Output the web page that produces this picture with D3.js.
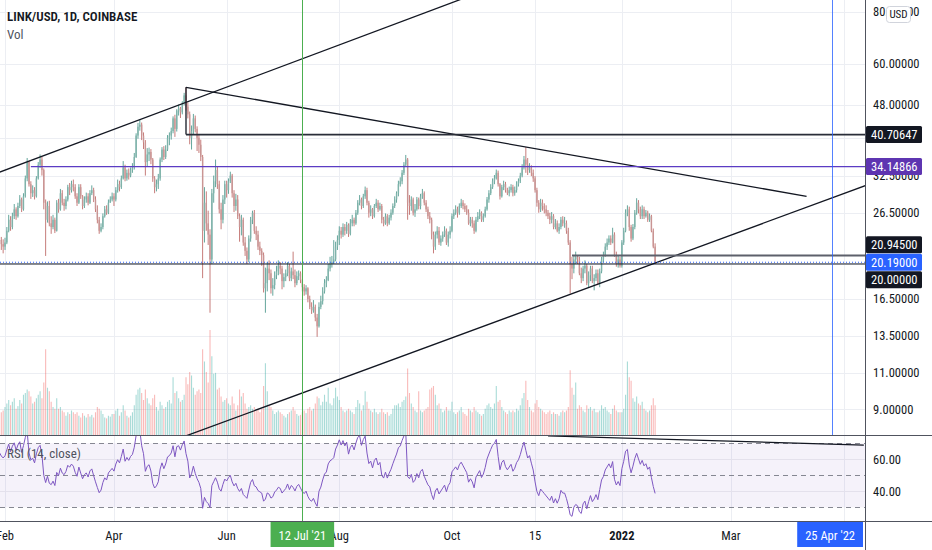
<!DOCTYPE html>
<html>
<head>
<meta charset="utf-8">
<script src="https://cdn.jsdelivr.net/npm/d3@7"></script>
<style>
  body { margin: 0; background: #fff; }
  svg { display: block; font-family: "Liberation Sans Narrow", "Roboto Condensed", Roboto, sans-serif; }
</style>
</head>
<body>
<svg id="chart" width="932" height="550"></svg>
<script>
"use strict";

// daily LINK/USD candles, 29 Jan 2021 .. 19 Jan 2022
const firstDay = "2021-01-29";

// closes before the visible range, only used to seed RSI(14)
const seedCloses = [11.9, 12.6, 12.9, 13.6, 15.1, 16.8, 17.3, 17.9, 18.7, 19.6, 15.9, 16.0, 17.9, 21.0,
  20.5, 23.0, 23.5, 22.6, 22.5, 21.4, 19.0, 21.8, 22.0, 21.6, 21.7, 21.9, 19.9, 22.7];

const closes = [
  22.8, 22.3, 22.0,
  22.5, 24.0, 25.5, 24.5, 26.0, 27.0, 26.0, 27.5, 28.5, 27.0, 29.0, 32.0, 35.0, 31.0, 29.5, 30.0, 29.0, 32.0, 34.5, 35.5, 33.5, 28.0, 25.5, 27.5, 25.0, 24.5, 25.5, 24.0,
  28.0, 27.0, 29.5, 28.0, 27.5, 28.5, 30.5, 30.0, 31.0, 30.5, 29.0, 28.0, 30.5, 29.0, 27.5, 28.5, 29.0, 28.0, 29.5, 30.0, 28.5, 27.0, 25.5, 24.0, 24.5, 26.0, 27.0, 26.5, 28.0, 28.5, 29.0,
  28.5, 30.0, 31.0, 30.5, 32.0, 34.0, 32.0, 33.0, 32.5, 33.5, 34.0, 36.0, 40.5, 42.5, 43.0, 40.5, 39.0, 35.0, 36.5, 37.0, 35.5, 32.0, 30.5, 31.0, 32.0, 35.5, 37.5, 36.0, 37.5, 40.0,
  40.5, 41.5, 44.5, 42.0, 46.5, 47.0, 46.0, 48.5, 50.5, 47.5, 45.5, 40.0, 41.5, 44.5, 42.0, 40.0, 38.5, 36.0, 24.0, 28.0, 25.0, 23.5, 20.5, 29.5, 31.5, 33.5, 31.0, 27.0, 25.5, 28.5, 31.0,
  30.0, 31.5, 32.5, 29.5, 27.5, 28.5, 26.0, 24.5, 25.5, 22.5, 21.5, 20.5, 23.0, 25.5, 26.5, 24.0, 23.5, 22.0, 21.5, 21.0, 17.5, 18.0, 19.5, 19.0, 17.5, 17.8, 18.8, 19.2, 19.8, 19.5,
  18.2, 18.6, 19.0, 19.8, 18.5, 19.2, 18.8, 18.0, 18.7, 19.0, 18.3, 17.6, 17.2, 17.5, 16.5, 15.8, 15.5, 15.8, 14.9, 14.2, 15.8, 16.3, 17.2, 18.0, 18.3, 19.5, 20.0, 20.2, 20.5, 22.0, 22.8,
  24.0, 23.5, 24.5, 24.0, 24.8, 23.6, 25.0, 25.5, 25.0, 26.5, 28.0, 28.5, 27.5, 29.0, 30.0, 28.0, 26.5, 27.0, 26.0, 27.5, 28.0, 27.0, 27.5, 25.5, 25.0, 26.0, 25.0, 25.8, 26.5, 27.5, 28.5,
  29.5, 31.0, 31.5, 33.0, 34.5, 35.5, 28.0, 27.5, 28.5, 26.5, 27.0, 28.5, 27.5, 29.0, 29.5, 28.0, 27.0, 26.0, 25.5, 23.5, 22.0, 23.5, 24.0, 22.5, 23.0, 23.5, 24.0, 22.5, 23.5, 24.0,
  26.0, 26.5, 27.0, 26.5, 27.5, 28.0, 27.5, 27.0, 26.5, 25.0, 25.5, 25.0, 24.0, 25.5, 26.0, 26.5, 25.5, 26.0, 27.0, 28.5, 29.5, 30.5, 31.5, 32.0, 33.0, 31.0, 29.0, 30.5, 31.0, 30.0, 29.5,
  30.0, 30.5, 29.5, 30.0, 31.0, 31.5, 32.5, 34.0, 35.5, 34.5, 33.5, 34.0, 33.0, 32.0, 30.0, 28.0, 27.0, 28.0, 27.5, 27.0, 26.5, 26.0, 25.5, 26.0, 24.5, 25.0, 24.0, 24.5, 25.5, 25.0,
  25.0, 24.0, 22.5, 20.0, 19.5, 20.5, 20.8, 20.5, 19.0, 18.5, 19.5, 19.8, 18.0, 18.8, 19.5, 18.2, 18.5, 19.0, 18.0, 19.2, 20.5, 21.0, 22.0, 22.5, 23.0, 22.5, 23.5, 21.0, 20.0, 20.5, 19.8,
  22.5, 24.0, 26.5, 27.0, 24.5, 23.0, 24.5, 26.5, 28.0, 27.0, 26.0, 27.0, 26.0, 26.5, 25.5, 26.0, 24.0, 22.0, 20.19
];

const highs = [
  23.6, 23.2, 22.9,
  23.1, 24.5, 26.2, 26.0, 26.5, 27.8, 27.3, 28.0, 29.2, 28.8, 29.5, 32.5, 35.8, 35.2, 31.5, 30.8, 30.5, 32.4, 35.0, 36.5, 36.0, 33.8, 28.5, 28.2, 28.3, 26.0, 26.2, 25.8,
  28.4, 28.6, 30.2, 30.0, 28.6, 29.0, 30.9, 31.2, 31.6, 31.8, 31.0, 29.5, 31.0, 31.0, 29.2, 29.0, 29.6, 29.5, 30.0, 30.8, 30.4, 29.0, 27.6, 25.9, 25.0, 26.4, 27.5, 27.6, 28.5, 29.0, 29.6,
  29.5, 30.5, 31.8, 31.6, 32.5, 35.2, 34.5, 33.6, 33.8, 34.0, 34.8, 36.8, 41.0, 43.4, 44.3, 43.5, 41.2, 39.5, 37.8, 37.9, 37.6, 35.8, 32.4, 31.8, 32.8, 35.9, 38.0, 38.2, 38.4, 40.6,
  41.2, 42.3, 45.0, 45.4, 46.8, 48.0, 47.4, 48.9, 51.2, 52.8, 48.6, 46.2, 42.8, 45.6, 45.2, 42.6, 40.8, 39.6, 36.4, 30.5, 29.8, 26.8, 24.2, 30.2, 32.5, 35.5, 34.2, 31.6, 28.0, 29.2, 31.6,
  31.6, 32.0, 33.2, 32.8, 30.0, 29.4, 29.2, 26.4, 26.2, 25.8, 23.2, 21.9, 23.4, 25.9, 26.8, 26.9, 24.6, 24.0, 22.6, 21.8, 21.3, 19.6, 20.2, 20.4, 19.4, 18.5, 19.2, 19.8, 20.4, 20.2,
  19.8, 19.0, 19.4, 20.2, 20.0, 19.6, 21.4, 19.4, 19.2, 19.3, 19.2, 18.4, 17.9, 17.8, 17.6, 16.8, 16.2, 16.4, 16.0, 15.2, 16.2, 16.8, 17.6, 18.4, 18.7, 20.0, 20.8, 20.9, 22.8, 22.6, 23.4,
  24.6, 24.5, 25.0, 24.9, 25.2, 25.0, 25.6, 26.2, 25.8, 26.9, 28.4, 29.2, 28.8, 29.4, 30.6, 30.4, 28.3, 27.6, 27.2, 27.8, 28.6, 28.4, 28.0, 27.8, 25.9, 26.4, 26.3, 26.2, 27.0, 27.9, 29.0,
  29.8, 31.6, 32.2, 33.5, 35.0, 36.4, 35.8, 29.2, 29.0, 28.8, 27.8, 28.9, 28.8, 29.4, 30.2, 29.8, 28.4, 27.4, 26.6, 25.8, 23.9, 23.9, 24.6, 24.5, 23.4, 23.9, 24.6, 24.3, 23.9, 24.6,
  26.4, 27.0, 27.6, 27.4, 27.9, 28.6, 28.4, 27.9, 27.6, 27.0, 25.9, 25.9, 25.4, 25.9, 26.6, 27.0, 26.7, 26.4, 27.4, 28.9, 30.0, 31.0, 32.0, 32.6, 33.6, 33.4, 31.2, 30.9, 31.6, 31.4, 30.4,
  30.6, 31.0, 30.9, 30.6, 31.5, 32.0, 33.0, 34.6, 36.2, 38.0, 35.8, 34.8, 34.4, 33.6, 32.4, 30.4, 28.4, 28.6, 28.5, 27.9, 27.6, 26.9, 26.5, 26.6, 26.3, 25.6, 25.4, 25.0, 25.9, 26.0,
  25.9, 25.4, 24.4, 22.8, 20.8, 20.9, 21.4, 21.0, 20.8, 19.6, 19.8, 20.4, 20.0, 19.2, 19.8, 19.8, 18.9, 19.4, 19.4, 19.5, 20.8, 21.4, 22.4, 23.0, 23.4, 23.4, 24.4, 23.8, 21.4, 20.9, 20.8,
  22.8, 24.4, 27.0, 27.6, 27.4, 24.8, 24.9, 26.9, 28.7, 28.4, 27.4, 27.6, 27.4, 26.9, 26.8, 26.4, 26.2, 24.3, 22.4
];

const lows = [
  21.5, 21.6, 21.2,
  21.6, 22.3, 23.8, 24.0, 24.2, 25.6, 25.5, 25.8, 27.2, 26.6, 26.8, 28.8, 31.5, 30.6, 28.6, 28.9, 28.5, 28.8, 31.8, 33.9, 32.5, 27.0, 20.9, 25.1, 24.6, 23.6, 24.2, 23.7,
  23.9, 26.5, 26.8, 27.6, 26.8, 27.0, 28.2, 29.2, 29.6, 29.8, 28.6, 27.5, 27.8, 28.6, 27.0, 27.2, 28.0, 27.6, 27.8, 29.2, 28.1, 26.6, 25.0, 23.6, 23.8, 24.2, 25.8, 26.2, 26.3, 28.0, 28.2,
  27.5, 28.2, 29.6, 29.8, 30.2, 31.8, 31.5, 31.6, 31.8, 32.2, 33.0, 33.6, 35.8, 39.8, 41.6, 39.5, 37.6, 32.5, 34.2, 35.2, 34.6, 31.4, 29.5, 29.8, 30.2, 31.6, 35.0, 35.4, 35.6, 37.2,
  38.4, 39.6, 41.0, 40.2, 41.4, 45.2, 44.6, 45.5, 47.8, 46.5, 44.5, 38.6, 37.5, 40.8, 41.2, 37.2, 36.8, 35.2, 18.5, 22.5, 24.0, 22.2, 15.3, 20.0, 28.0, 30.5, 30.2, 26.4, 24.2, 25.0, 27.8,
  28.8, 29.4, 31.2, 28.8, 26.6, 26.8, 25.6, 22.6, 23.4, 22.1, 20.9, 20.0, 20.2, 22.6, 24.9, 23.6, 22.8, 21.6, 21.0, 19.8, 17.1, 15.3, 17.2, 18.3, 17.0, 16.8, 17.4, 18.4, 18.8, 18.9,
  17.4, 17.6, 18.2, 18.7, 18.2, 18.2, 18.4, 17.6, 17.8, 18.3, 18.0, 17.2, 16.8, 16.9, 16.2, 15.6, 15.2, 15.3, 14.6, 13.4, 14.1, 15.6, 16.0, 17.0, 17.6, 18.2, 19.2, 19.6, 20.0, 20.3, 21.6,
  22.2, 23.0, 23.2, 23.4, 23.6, 23.2, 23.4, 24.6, 24.6, 24.8, 26.2, 27.6, 27.0, 27.2, 28.6, 27.6, 25.8, 26.0, 25.6, 25.8, 27.2, 26.6, 26.8, 25.0, 24.6, 24.8, 24.6, 24.8, 25.4, 26.2, 27.2,
  28.0, 29.0, 30.6, 31.0, 32.6, 34.2, 25.5, 26.2, 26.8, 26.1, 25.9, 26.8, 27.0, 27.0, 28.6, 27.6, 26.6, 25.6, 25.0, 22.9, 21.2, 21.6, 23.0, 22.2, 22.1, 22.6, 23.2, 22.2, 22.0, 23.0,
  23.8, 25.6, 26.2, 25.8, 26.2, 27.2, 27.0, 26.6, 26.2, 24.8, 24.6, 24.4, 23.6, 23.8, 25.2, 25.6, 25.2, 25.2, 25.8, 26.8, 28.0, 29.2, 30.2, 31.0, 31.8, 30.6, 28.5, 28.8, 30.0, 29.6, 29.2,
  29.0, 29.6, 29.0, 29.1, 29.6, 30.6, 31.2, 32.2, 33.6, 33.0, 32.6, 33.0, 32.4, 31.4, 29.6, 27.4, 26.5, 26.6, 26.8, 26.4, 26.0, 25.6, 24.9, 25.0, 24.2, 24.2, 23.8, 23.6, 24.2, 24.6,
  24.4, 23.6, 22.2, 17.0, 18.4, 19.0, 20.0, 20.0, 18.8, 18.0, 18.2, 19.0, 17.8, 17.6, 18.2, 18.0, 17.3, 18.2, 17.8, 17.6, 19.0, 20.2, 20.8, 21.6, 22.2, 22.2, 22.4, 20.8, 19.7, 19.6, 19.6,
  19.6, 22.2, 23.8, 26.0, 24.0, 22.6, 22.8, 24.2, 26.2, 26.4, 25.6, 25.6, 25.6, 25.8, 25.2, 25.2, 23.8, 21.8, 20.0
];

// volume, millions of LINK
const volumes = [
  3.0, 2.6, 2.8,
  3.2, 3.6, 4.0, 3.4, 3.8, 4.2, 3.0, 3.3, 4.0, 3.6, 4.6, 4.8, 5.2, 5.0, 4.4, 3.6, 3.8, 4.2, 4.6, 5.0, 4.2, 6.0, 9.8, 5.4, 5.0, 3.8, 3.2, 3.0,
  4.2, 3.0, 3.2, 2.8, 2.6, 2.2, 2.6, 2.4, 2.8, 2.6, 2.4, 2.6, 2.2, 2.0, 2.5, 2.2, 2.0, 2.4, 2.1, 2.3, 2.0, 2.6, 3.2, 3.0, 2.8, 2.4, 2.0, 1.9, 2.2, 2.1, 2.4,
  2.4, 2.8, 3.0, 2.2, 2.6, 3.4, 2.8, 2.2, 2.0, 2.2, 2.6, 3.4, 4.6, 5.2, 5.4, 4.8, 4.0, 5.2, 4.2, 3.6, 3.4, 4.2, 4.6, 3.2, 2.8, 3.8, 3.4, 3.0, 3.2, 3.8,
  4.0, 3.6, 6.6, 4.8, 5.0, 4.2, 3.8, 4.0, 4.6, 6.6, 5.8, 7.2, 6.8, 5.4, 4.6, 5.0, 5.2, 4.8, 9.8, 8.4, 7.2, 6.0, 12.0, 9.0, 7.0, 7.1, 5.2, 5.4, 4.4, 3.8, 4.0,
  4.2, 3.6, 3.4, 4.4, 3.6, 2.8, 3.4, 5.2, 4.4, 4.8, 3.6, 3.0, 3.2, 3.4, 3.0, 3.2, 2.8, 3.0, 2.6, 3.0, 5.6, 8.2, 5.0, 3.4, 3.2, 2.8, 2.4, 2.6, 2.8, 2.6,
  2.4, 2.2, 2.0, 2.4, 2.6, 2.8, 3.2, 2.8, 2.4, 2.2, 2.3, 2.6, 2.8, 2.5, 3.0, 3.2, 2.8, 3.0, 3.6, 4.4, 4.2, 3.4, 3.8, 4.6, 3.8, 5.4, 3.6, 3.4, 4.2, 5.4, 4.4,
  4.0, 3.2, 2.8, 2.6, 2.8, 3.0, 2.8, 2.6, 2.4, 3.2, 4.0, 3.6, 2.8, 3.4, 5.0, 3.8, 3.0, 2.8, 2.6, 3.0, 2.6, 2.4, 2.6, 3.0, 2.6, 2.4, 2.6, 2.2, 2.4, 3.0, 3.4,
  3.4, 3.6, 3.2, 3.8, 4.0, 4.4, 7.6, 4.8, 3.6, 3.2, 2.8, 2.6, 5.0, 2.8, 2.6, 2.8, 3.0, 3.2, 5.2, 5.4, 5.6, 4.6, 3.4, 3.6, 3.0, 2.6, 2.8, 3.2, 2.8, 2.8,
  3.8, 2.6, 2.4, 2.6, 2.8, 3.2, 2.6, 2.4, 2.2, 3.0, 2.8, 2.6, 3.2, 2.8, 2.6, 2.4, 2.2, 2.4, 3.0, 3.4, 3.6, 3.2, 3.0, 3.6, 5.6, 3.8, 4.0, 3.2, 2.8, 2.6, 2.4,
  2.8, 2.6, 2.8, 2.6, 3.0, 2.8, 3.4, 4.2, 4.8, 6.2, 4.0, 3.2, 2.8, 2.6, 3.6, 4.0, 3.2, 3.0, 2.8, 2.6, 2.4, 2.6, 2.8, 2.4, 2.6, 2.4, 2.4, 2.2, 2.6, 2.8,
  2.6, 2.8, 3.2, 7.4, 5.4, 4.6, 6.0, 3.0, 3.4, 3.2, 2.8, 2.6, 3.4, 3.0, 3.2, 2.8, 3.0, 2.6, 2.6, 2.8, 3.4, 3.0, 3.2, 2.8, 2.6, 2.4, 3.0, 3.4, 2.8, 2.6, 2.6,
  2.6, 3.0, 4.6, 8.4, 6.6, 6.2, 4.2, 3.8, 4.4, 3.6, 3.4, 3.8, 3.0, 2.8, 2.6, 2.8, 3.4, 4.2, 3.4
];

// price axis
const priceTicks = [80, 60, 48, 40, 32.5, 26.5, 20, 16.5, 13.5, 11, 9];
const rsiTicks = [60, 40];
const rsiBands = [70, 50, 30];

// time axis
const timeTicks = [
  ["2021-02-01", "Feb"], ["2021-04-01", "Apr"], ["2021-06-01", "Jun"], ["2021-08-01", "Aug"],
  ["2021-10-01", "Oct"], ["2021-11-15", "15"], ["2022-01-01", "2022"], ["2022-03-01", "Mar"], ["2022-05-01", "May"]
];

// drawings
const trendLines = [          // [date, price] anchors, extended both ways
  [["2021-02-20", 36.0], ["2021-07-10", 61.3]],
  [["2021-07-10", 9.77], ["2022-01-19", 20.1]]
];
const segments = [            // plain segments
  [["2021-05-10", 52.8], ["2022-04-11", 29.0]],
  [["2021-05-10", 52.8], ["2021-05-10", 40.70647]]
];
const levelPrices = [40.70647, 34.14866, 20.945, 20.0];
const levelStarts = ["2021-05-10", "2021-02-15", "2021-12-05", "2021-01-01"];
const lastPrice = 20.19;
const rsiLine = [["2021-11-22", 74.6], ["2022-05-12", 68.9]];
const markerDates = ["2021-07-12", "2022-04-25"];
const markerLabels = ["12 Jul '21", "25 Apr '22"];

// ---------------------------------------------------------------
const svg = d3.select("#chart");
const W = 932, H = 550;
const plotR = 865, mainB = 435, rsiT = 436, rsiB = 521;
const parseDay = d3.utcParse("%Y-%m-%d");
const day0 = parseDay(firstDay);

const dates = closes.map((c, i) => d3.utcDay.offset(day0, i));
const opens = closes.map((c, i) => i ? closes[i - 1] : seedCloses[seedCloses.length - 1]);

function rsi(values, n) {
  const out = [null];
  let g = 0, l = 0;
  for (let i = 1; i < values.length; i++) {
    const ch = values[i] - values[i - 1];
    const up = Math.max(ch, 0), dn = Math.max(-ch, 0);
    if (i <= n) { g += up / n; l += dn / n; }
    else { g = (g * (n - 1) + up) / n; l = (l * (n - 1) + dn) / n; }
    out.push(i >= n ? 100 - 100 / (1 + g / l) : null);
  }
  return out;
}
const rsiVals = rsi(seedCloses.concat(closes), 14).slice(seedCloses.length);

const x = d3.scaleUtc()
  .domain([parseDay("2021-02-01"), parseDay("2022-05-01")])
  .range([5, 843.5]);
const y = d3.scaleLog().domain([60, 9]).range([64, 409.3]);
const yVol = d3.scaleLinear().domain([0, 12]).range([mainB, 330]);
const yRsi = d3.scaleLinear().domain([30, 70]).range([507.3, 443.3]);

const defs = svg.append("defs");
defs.append("clipPath").attr("id", "clipMain")
  .append("rect").attr("x", 0).attr("y", 0).attr("width", plotR).attr("height", mainB);
defs.append("clipPath").attr("id", "clipRsi")
  .append("rect").attr("x", 0).attr("y", rsiT).attr("width", plotR).attr("height", rsiB - rsiT);

svg.append("rect").attr("width", W).attr("height", H).attr("fill", "#fff");

// grid
const grid = svg.append("g").attr("stroke", "#eceef3").attr("stroke-width", 1);
grid.selectAll("line.h").data(priceTicks).enter().append("line")
  .attr("x1", 0).attr("x2", plotR)
  .attr("y1", d => Math.round(y(d)) + 0.5).attr("y2", d => Math.round(y(d)) + 0.5);
grid.selectAll("line.v").data(timeTicks).enter().append("line")
  .attr("x1", d => Math.round(x(parseDay(d[0]))) + 0.5).attr("x2", d => Math.round(x(parseDay(d[0]))) + 0.5)
  .attr("y1", 0).attr("y2", rsiB);

// volume
const gMain = svg.append("g").attr("clip-path", "url(#clipMain)");
gMain.append("g").selectAll("rect").data(volumes).enter().append("rect")
  .attr("x", (v, i) => x(dates[i]) - 0.55)
  .attr("width", 1.1)
  .attr("y", v => yVol(v))
  .attr("height", v => mainB - yVol(v))
  .attr("fill", (v, i) => closes[i] >= opens[i] ? "rgba(38,166,154,0.4)" : "rgba(239,83,80,0.4)");

// candles
const candle = gMain.append("g").selectAll("g").data(closes).enter().append("g")
  .attr("stroke", (c, i) => c >= opens[i] ? "#3d8f83" : "#b85a58")
  .attr("fill", (c, i) => c >= opens[i] ? "#7fb3aa" : "#c99594");
candle.append("line")
  .attr("x1", (c, i) => x(dates[i])).attr("x2", (c, i) => x(dates[i]))
  .attr("y1", (c, i) => y(highs[i])).attr("y2", (c, i) => y(lows[i]))
  .attr("stroke-width", 0.8);
candle.append("rect")
  .attr("stroke", "none")
  .attr("x", (c, i) => x(dates[i]) - 0.7).attr("width", 1.4)
  .attr("y", (c, i) => y(Math.max(c, opens[i])))
  .attr("height", (c, i) => Math.max(0.8, Math.abs(y(c) - y(opens[i]))));

// drawings in main pane
const pt = a => [x(parseDay(a[0])), y(a[1])];
trendLines.forEach(([a, b]) => {
  const p1 = pt(a), p2 = pt(b), k = (p2[1] - p1[1]) / (p2[0] - p1[0]);
  gMain.append("line")
    .attr("x1", -20).attr("y1", p1[1] + k * (-20 - p1[0]))
    .attr("x2", plotR + 20).attr("y2", p1[1] + k * (plotR + 20 - p1[0]))
    .attr("stroke", "#131722").attr("stroke-width", 1.3);
});
segments.forEach(([a, b]) => {
  const p1 = pt(a), p2 = pt(b);
  gMain.append("line").attr("x1", p1[0]).attr("y1", p1[1]).attr("x2", p2[0]).attr("y2", p2[1])
    .attr("stroke", "#131722").attr("stroke-width", 1.3);
});
const levelColor = ["#2a2e39", "#5b3cc4", "#5d606b", "#131722"];
const levelWidth = [1.6, 1.2, 2, 1];
levelPrices.forEach((p, i) => {
  gMain.append("line")
    .attr("x1", x(parseDay(levelStarts[i]))).attr("x2", plotR)
    .attr("y1", y(p)).attr("y2", y(p))
    .attr("stroke", levelColor[i]).attr("stroke-width", levelWidth[i]);
});
gMain.append("line").attr("x1", 0).attr("x2", plotR)
  .attr("y1", y(lastPrice)).attr("y2", y(lastPrice))
  .attr("stroke", "#2962ff").attr("stroke-width", 1).attr("stroke-dasharray", "1,2");

// RSI pane
const gRsi = svg.append("g").attr("clip-path", "url(#clipRsi)");
gRsi.append("rect").attr("x", 0).attr("width", plotR)
  .attr("y", yRsi(70)).attr("height", yRsi(30) - yRsi(70))
  .attr("fill", "rgba(126,87,194,0.08)");
gRsi.selectAll("line.g").data(rsiTicks).enter().append("line")
  .attr("x1", 0).attr("x2", plotR)
  .attr("y1", d => Math.round(yRsi(d)) + 0.5).attr("y2", d => Math.round(yRsi(d)) + 0.5)
  .attr("stroke", "#e4e1ec");
gRsi.selectAll("line.b").data(rsiBands).enter().append("line")
  .attr("x1", 0).attr("x2", plotR)
  .attr("y1", d => Math.round(yRsi(d)) + 0.5).attr("y2", d => Math.round(yRsi(d)) + 0.5)
  .attr("stroke", "#787b86").attr("stroke-width", 0.9).attr("stroke-dasharray", "5,4");
gRsi.append("path")
  .datum(rsiVals.map((v, i) => [dates[i], v]))
  .attr("fill", "none").attr("stroke", "#7e57c2").attr("stroke-width", 1)
  .attr("d", d3.line().defined(d => d[1] != null).x(d => x(d[0])).y(d => yRsi(d[1])));
{
  const p1 = [x(parseDay(rsiLine[0][0])), yRsi(rsiLine[0][1])];
  const p2 = [x(parseDay(rsiLine[1][0])), yRsi(rsiLine[1][1])];
  gRsi.append("line").attr("x1", p1[0]).attr("y1", p1[1]).attr("x2", p2[0]).attr("y2", p2[1])
    .attr("stroke", "#131722").attr("stroke-width", 1.3);
}

// vertical markers
svg.append("line")
  .attr("x1", Math.round(x(parseDay(markerDates[0]))) + 0.5).attr("x2", Math.round(x(parseDay(markerDates[0]))) + 0.5)
  .attr("y1", 0).attr("y2", rsiB).attr("stroke", "#4caf50").attr("stroke-width", 1);
svg.append("line")
  .attr("x1", Math.round(x(parseDay(markerDates[1]))) + 0.5).attr("x2", Math.round(x(parseDay(markerDates[1]))) + 0.5)
  .attr("y1", 0).attr("y2", mainB).attr("stroke", "#2962ff").attr("stroke-opacity", 0.8).attr("stroke-width", 1);

// pane borders
const border = svg.append("g").attr("stroke", "#50535e").attr("stroke-width", 1);
border.append("line").attr("x1", 0).attr("x2", W).attr("y1", mainB + 0.5).attr("y2", mainB + 0.5);
border.append("line").attr("x1", 0).attr("x2", W).attr("y1", rsiB + 0.5).attr("y2", rsiB + 0.5);
border.append("line").attr("x1", plotR + 0.5).attr("x2", plotR + 0.5).attr("y1", 0).attr("y2", H);

// price axis labels
const fmt5 = d3.format(".5f");
const axisText = svg.append("g").attr("font-size", 12.5).attr("fill", "#131722");
axisText.selectAll("text.p").data(priceTicks).enter().append("text")
  .attr("x", 873).attr("y", d => y(d)).attr("dy", "0.35em").text(d => fmt5(d));
axisText.selectAll("text.r").data(rsiTicks).enter().append("text")
  .attr("x", 873).attr("y", d => yRsi(d)).attr("dy", "0.35em").text(d => d3.format(".2f")(d));

// level labels, stacked around the last price like the platform does
const tags = levelPrices.map((p, i) => ({ p, y: y(p), fill: levelColor[i] === "#5b3cc4" ? "#5e35b1" : "#131722" }));
tags.push({ p: lastPrice, y: y(lastPrice), fill: "#2962ff", anchor: true });
tags.sort((a, b) => a.y - b.y);
const tagH = 17.5;
const anchorIdx = tags.findIndex(t => t.anchor);
let lo = anchorIdx, hi = anchorIdx;
while (lo > 0 && tags[anchorIdx].y - tags[lo - 1].y < tagH * (anchorIdx - lo + 1)) lo--;
while (hi < tags.length - 1 && tags[hi + 1].y - tags[anchorIdx].y < tagH * (hi - anchorIdx + 1)) hi++;
for (let i = lo; i <= hi; i++) tags[i].y = tags[anchorIdx].y + (i - anchorIdx) * tagH;
const tagG = svg.append("g").selectAll("g").data(tags).enter().append("g")
  .attr("transform", d => `translate(866,${d.y})`);
tagG.append("rect").attr("x", 0).attr("y", -8.5).attr("width", 56).attr("height", 17)
  .attr("rx", 1.5).attr("fill", d => d.fill);
tagG.append("text").attr("x", 5).attr("dy", "0.36em").attr("font-size", 12.5)
  .attr("fill", "#fff").text(d => fmt5(d.p));

// USD button
const usd = svg.append("g").attr("transform", "translate(886.5,6.5)");
usd.append("rect").attr("width", 24).attr("height", 16).attr("rx", 3)
  .attr("fill", "#fff").attr("stroke", "#d1d4dc");
usd.append("text").attr("x", 12).attr("y", 8).attr("dy", "0.35em").attr("text-anchor", "middle")
  .attr("font-size", 11).attr("fill", "#131722").text("USD");

// time axis
svg.append("g").selectAll("text").data(timeTicks).enter().append("text")
  .attr("x", d => x(parseDay(d[0]))).attr("y", 540)
  .attr("text-anchor", "middle").attr("font-size", 12.5).attr("fill", "#131722")
  .attr("font-weight", d => d[1] === "2022" ? "bold" : null)
  .text(d => d[1]);
const markColors = ["#4caf50", "#2962ff"];
markerDates.forEach((md, i) => {
  const cx = x(parseDay(md));
  const g = svg.append("g");
  const t = g.append("text").attr("x", cx).attr("y", 540).attr("text-anchor", "middle")
    .attr("font-size", 12.5).attr("fill", "#fff").text(markerLabels[i]);
  const w = t.node().getComputedTextLength() + 16;
  g.insert("rect", "text").attr("x", Math.min(cx - w / 2, plotR - 2 - w)).attr("y", 522)
    .attr("width", w).attr("height", 25).attr("fill", markColors[i]);
  if (cx + w / 2 > plotR - 2) t.attr("x", plotR - 2 - w / 2);
});

// legends
svg.append("text").attr("x", 7).attr("y", 21).attr("font-size", 13).attr("fill", "#131722")
  .attr("font-weight", 600).text("LINK/USD, 1D, COINBASE");
svg.append("text").attr("x", 7).attr("y", 39).attr("font-size", 13).attr("fill", "#50535e").text("Vol");
svg.append("text").attr("x", 7).attr("y", 458).attr("font-size", 13).attr("fill", "#50535e").text("RSI (14, close)");
</script>
</body>
</html>
